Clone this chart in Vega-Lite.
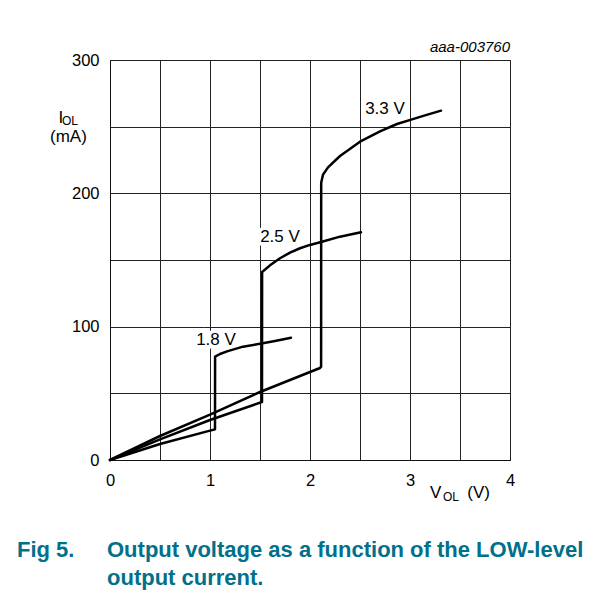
{
  "$schema": "https://vega.github.io/schema/vega-lite/v6.json",
  "width": 400,
  "height": 400,
  "autosize": {"type": "none"},
  "padding": {"left": 110, "top": 60, "right": 98, "bottom": 135},
  "background": "white",
  "config": {
    "font": "Liberation Sans",
    "view": {"stroke": "#111", "strokeWidth": 1}
  },
  "datasets": {
    "curves": [
      {"s": "1.8 V", "V": 0, "I": 0},
      {"s": "1.8 V", "V": 0.5, "I": 12},
      {"s": "1.8 V", "V": 1.0, "I": 22},
      {"s": "1.8 V", "V": 1.05, "I": 23},
      {"s": "1.8 V", "V": 1.051, "I": 77.5},
      {"s": "1.8 V", "V": 1.1, "I": 79.5},
      {"s": "1.8 V", "V": 1.17, "I": 81.5},
      {"s": "1.8 V", "V": 1.33, "I": 85},
      {"s": "1.8 V", "V": 1.5, "I": 87.2},
      {"s": "1.8 V", "V": 1.65, "I": 89.3},
      {"s": "1.8 V", "V": 1.81, "I": 91.7},
      {"s": "2.5 V", "V": 0, "I": 0},
      {"s": "2.5 V", "V": 0.5, "I": 15.5},
      {"s": "2.5 V", "V": 1.0, "I": 30},
      {"s": "2.5 V", "V": 1.52, "I": 43.5},
      {"s": "2.5 V", "V": 1.521, "I": 141},
      {"s": "2.5 V", "V": 1.6, "I": 146},
      {"s": "2.5 V", "V": 1.7, "I": 151.3},
      {"s": "2.5 V", "V": 1.8, "I": 155.5},
      {"s": "2.5 V", "V": 1.9, "I": 158.8},
      {"s": "2.5 V", "V": 2.0, "I": 161.3},
      {"s": "2.5 V", "V": 2.12, "I": 163.7},
      {"s": "2.5 V", "V": 2.3, "I": 167.5},
      {"s": "2.5 V", "V": 2.51, "I": 170.8},
      {"s": "3.3 V", "V": 0, "I": 0},
      {"s": "3.3 V", "V": 0.5, "I": 18},
      {"s": "3.3 V", "V": 1.0, "I": 34},
      {"s": "3.3 V", "V": 1.5, "I": 51},
      {"s": "3.3 V", "V": 2.1, "I": 69},
      {"s": "3.3 V", "V": 2.111, "I": 70},
      {"s": "3.3 V", "V": 2.112, "I": 208},
      {"s": "3.3 V", "V": 2.13, "I": 214},
      {"s": "3.3 V", "V": 2.18, "I": 219.5},
      {"s": "3.3 V", "V": 2.3, "I": 228},
      {"s": "3.3 V", "V": 2.5, "I": 238.7},
      {"s": "3.3 V", "V": 2.7, "I": 246.5},
      {"s": "3.3 V", "V": 2.87, "I": 252},
      {"s": "3.3 V", "V": 3.02, "I": 255.5},
      {"s": "3.3 V", "V": 3.15, "I": 258.5},
      {"s": "3.3 V", "V": 3.31, "I": 262}
    ],
    "labels": [
      {"V": 1.06, "I": 90, "t": "1.8 V"},
      {"V": 1.70, "I": 167, "t": "2.5 V"},
      {"V": 2.75, "I": 263, "t": "3.3 V"}
    ],
    "code": [{"V": 4.0, "I": 310, "t": "aaa-003760"}],
    "titleMain": [
      {"V": -0.515, "I": 256.5, "t": "I"},
      {"V": -0.60, "I": 242, "t": "(mA)"},
      {"V": 3.20, "I": -24.75, "t": "V"},
      {"V": 3.573, "I": -25, "t": "(V)"}
    ],
    "titleSub": [
      {"V": -0.48, "I": 254, "t": "OL"},
      {"V": 3.33, "I": -27.5, "t": "OL"}
    ],
    "caption": [
      {"V": -0.93, "I": -72.75, "t": "Fig 5."},
      {"V": -0.03, "I": -72.75, "t": "Output voltage as a function of the LOW-level"},
      {"V": -0.03, "I": -93.75, "t": "output current."}
    ]
  },
  "encoding": {
    "x": {
      "field": "V",
      "type": "quantitative",
      "scale": {"domain": [0, 4], "nice": false},
      "axis": {
        "title": null,
        "values": [0, 0.5, 1, 1.5, 2, 2.5, 3, 3.5, 4],
        "labelExpr": "datum.value % 1 === 0 ? format(datum.value, 'd') : ''",
        "labelFlush": false,
        "labelFontSize": 16.5,
        "labelColor": "black",
        "labelPadding": 12,
        "ticks": false,
        "domainColor": "#111",
        "grid": true,
        "gridColor": "#222",
        "gridOpacity": 1,
        "gridWidth": 1
      }
    },
    "y": {
      "field": "I",
      "type": "quantitative",
      "scale": {"domain": [0, 300], "nice": false},
      "axis": {
        "title": null,
        "values": [0, 50, 100, 150, 200, 250, 300],
        "labelExpr": "datum.value % 100 === 0 ? format(datum.value, 'd') : ''",
        "labelFlush": false,
        "labelFontSize": 16.5,
        "labelColor": "black",
        "labelPadding": 11,
        "ticks": false,
        "domainColor": "#111",
        "grid": true,
        "gridColor": "#222",
        "gridOpacity": 1,
        "gridWidth": 1
      }
    }
  },
  "layer": [
    {
      "data": {"name": "labels"},
      "mark": {"type": "text", "fontSize": 17, "stroke": "white", "strokeWidth": 7, "fill": "white", "align": "center", "baseline": "middle"},
      "encoding": {"text": {"field": "t"}}
    },
    {
      "data": {"name": "labels"},
      "mark": {"type": "text", "fontSize": 17, "color": "black", "align": "center", "baseline": "middle"},
      "encoding": {"text": {"field": "t"}}
    },
    {
      "data": {"name": "curves"},
      "mark": {"type": "line", "color": "black", "strokeWidth": 2.5, "strokeJoin": "round", "strokeCap": "round", "clip": false},
      "encoding": {"detail": {"field": "s"}}
    },
    {
      "data": {"name": "code"},
      "mark": {"type": "text", "fontSize": 15, "fontStyle": "italic", "color": "black", "align": "right", "baseline": "middle"},
      "encoding": {"text": {"field": "t"}}
    },
    {
      "data": {"name": "titleMain"},
      "mark": {"type": "text", "fontSize": 17, "color": "black", "align": "left", "baseline": "middle"},
      "encoding": {"text": {"field": "t"}}
    },
    {
      "data": {"name": "titleSub"},
      "mark": {"type": "text", "fontSize": 12, "color": "black", "align": "left", "baseline": "middle"},
      "encoding": {"text": {"field": "t"}}
    },
    {
      "data": {"name": "caption"},
      "mark": {"type": "text", "fontSize": 22, "fontWeight": "bold", "color": "#00708B", "align": "left", "baseline": "alphabetic"},
      "encoding": {"text": {"field": "t"}}
    },
    {
      "data": {"values": [{}]},
      "mark": {"type": "rule", "color": "#00708B", "strokeWidth": 1.5},
      "encoding": {
        "x": {"datum": -1.1},
        "x2": {"datum": 4.98},
        "y": {"datum": 339.4}
      }
    }
  ]
}
